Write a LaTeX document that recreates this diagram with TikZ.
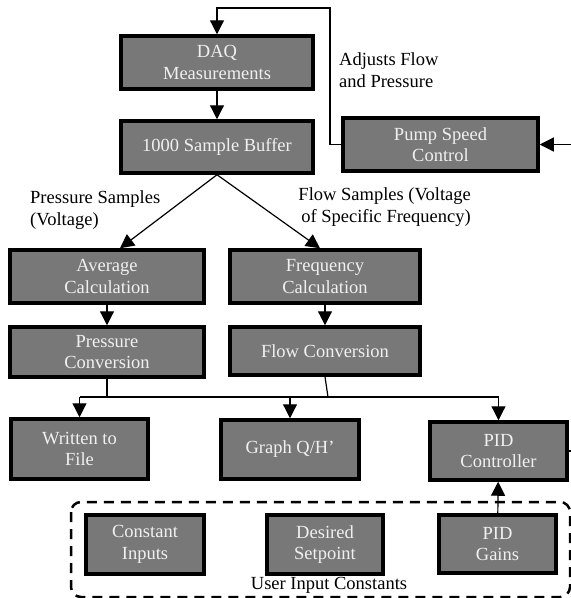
\documentclass[tikz,border=0pt]{standalone}
\usepackage{fontspec}
\setmainfont{Liberation Serif}
\usetikzlibrary{arrows.meta}
\definecolor{boxfill}{HTML}{787878}
\definecolor{boxtext}{HTML}{F0F0F0}
\begin{document}
\begin{tikzpicture}[x=1pt,y=-1pt,
  font=\fontsize{18.5}{21.5}\selectfont,
  block/.style={draw=black, line width=3.5pt, fill=boxfill, text=boxtext,
    align=center, inner sep=0pt, minimum width=#1},
  conn/.style={draw=black, line width=1.2pt},
  arr/.style={conn, -{Triangle[width=14pt,length=14pt]}},
  note/.style={inner sep=0pt, text=black}]
\useasboundingbox (0,0) rectangle (571,598);

% processing chain
\node[block=192, minimum height=53] (daq)  at (217,62.5) {DAQ\\Measurements};
\node[block=192, minimum height=52] (buf)  at (217,147) {1000 Sample Buffer};
\node[block=195, minimum height=53] (pump) at (440.5,144.5) {Pump Speed\\Control};
\node[block=194, minimum height=53] (avg)  at (107,276.5) {Average\\Calculation};
\node[block=190, minimum height=53] (freq) at (325,276.5) {Frequency\\Calculation};
\node[block=194, minimum height=50] (pconv) at (107,352) {Pressure\\Conversion};
\node[block=190, minimum height=48] (fconv) at (325,351) {Flow Conversion};

% outputs
\node[block=137, minimum height=60] (file)  at (79.5,449) {Written to\\File};
\node[block=138, minimum height=59] (graph) at (290,449.5) {Graph Q/H’};
\node[block=137, minimum height=58] (pid)   at (498.5,451) {PID\\Controller};

% user input constants
\draw[black, line width=2.5pt, dash pattern=on 10pt off 7pt, rounded corners=10pt]
  (71,502) rectangle (570,597);
\node[block=118, minimum height=59] (const) at (145,544.5) {Constant\\Inputs};
\node[block=116, minimum height=59] (setp)  at (325,544.5) {Desired\\Setpoint};
\node[block=117, minimum height=58] (gains) at (497.5,544) {PID\\Gains};
\node[note] (uic) at (329,585) {User Input Constants};

% labels
\node[note, anchor=west, align=left] (adj) at (339,70) {Adjusts Flow\\and Pressure};
\node[note, anchor=west, align=left] (psl) at (30,210) {Pressure Samples\\(Voltage)};
\node[note, anchor=east, align=right] (fsl) at (471,207) {Flow Samples (Voltage\\of Specific Frequency)};

% connectors
\coordinate (fbtop) at (330,8);
\draw[arr] (pump.west) -| (fbtop) -| (daq.north);
\draw[arr] (daq) -- (buf);
\draw[arr] (buf.south) -- ([xshift=13pt]avg.north);
\draw[arr] (buf.south) -- ([xshift=-5pt]freq.north);
\draw[arr] (avg) -- (pconv);
\draw[arr] (freq) -- (fconv);

\coordinate (bus) at (0,397);
\draw[conn] (pconv.south) -- (pconv.south |- bus);
\draw[conn] (fconv.south) -- ([xshift=3pt]fconv.south |- bus);
\draw[conn] (file.north |- bus) -- (pid.north |- bus);
\draw[arr] (file.north |- bus) -- (file.north);
\draw[arr] (graph.north |- bus) -- (graph.north);
\draw[arr] (pid.north |- bus) -- (pid.north);

\draw[arr] (gains) -- (pid);
\draw[arr] (pid.east) -- ++(10,0) |- (pump.east);
\end{tikzpicture}
\end{document}
